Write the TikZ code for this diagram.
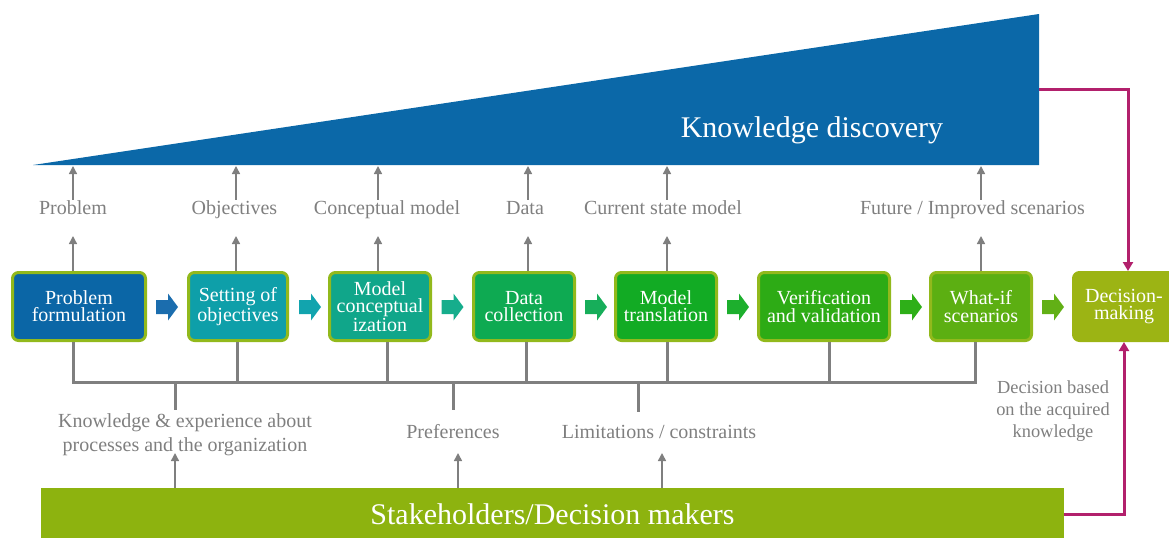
\documentclass[tikz,border=0pt]{standalone}
\usepackage{fontspec}
\setmainfont{LiberationSerif}[Extension=.ttf, UprightFont=*-Regular,
  BoldFont=*-Bold, ItalicFont=*-Italic, BoldItalicFont=*-BoldItalic]
\usetikzlibrary{arrows.meta,calc}

\definecolor{kblue}{HTML}{0B68A8}
\definecolor{lime}{HTML}{92B91C}
\definecolor{shgreen}{HTML}{8DB30F}
\definecolor{lblgray}{HTML}{7F7F7F}
\definecolor{magline}{HTML}{B2206C}
\definecolor{cA}{HTML}{0B66A6}
\definecolor{cB}{HTML}{0E9FA9}
\definecolor{cC}{HTML}{10A68A}
\definecolor{cD}{HTML}{0EAA52}
\definecolor{cE}{HTML}{12AB24}
\definecolor{cF}{HTML}{2DAB15}
\definecolor{cG}{HTML}{5CAF12}
\definecolor{cH}{HTML}{9CB414}
\definecolor{aA}{HTML}{1B6DAE}
\definecolor{aB}{HTML}{12A4AE}
\definecolor{aC}{HTML}{16AD8C}
\definecolor{aD}{HTML}{17AE5A}
\definecolor{aE}{HTML}{1DAF2D}
\definecolor{aF}{HTML}{2EAF18}
\definecolor{aG}{HTML}{62B016}

\tikzset{
  stepbox/.style={draw=lime, line width=1.5pt, rounded corners=3pt,
    minimum height=34pt, inner sep=0pt, align=center, text=white,
    font=\fontsize{10pt}{8.6pt}\selectfont},
  toplbl/.style={text=lblgray, inner sep=0pt, text height=7pt, text depth=2pt,
    font=\fontsize{10pt}{12pt}\selectfont},
  botlbl/.style={text=lblgray, inner sep=0pt, align=center,
    font=\fontsize{10pt}{12pt}\selectfont},
  up/.style={draw=lblgray, line width=0.75pt, -{Triangle[width=4pt,length=4pt]}},
  bus/.style={draw=lblgray, line width=1.5pt},
  magarrow/.style={draw=magline, line width=1.5pt,
    -{Triangle[width=5pt,length=4.5pt]}},
}

% block arrow between two steps, centred on a named coordinate
\newcommand{\blockarrow}[2]{%
  \fill[#2] ($(#1)+(-11,-7)$) -- ($(#1)+(1,-7)$) -- ($(#1)+(1,-13.5)$)
    -- ($(#1)+(11,0)$) -- ($(#1)+(1,13.5)$) -- ($(#1)+(1,7)$)
    -- ($(#1)+(-11,7)$) -- cycle;}

\begin{document}
\begin{tikzpicture}[x=0.5pt, y=-0.5pt]
\useasboundingbox (0,0) rectangle (1169,537);

% knowledge discovery wedge
\coordinate (kd-tip) at (33,165);
\coordinate (kd-top) at (1039,14);
\coordinate (kd-corner) at (1039,165);
\coordinate (kd-out) at (1039,89);
\fill[kblue] (kd-tip) -- (kd-top) -- (kd-corner) -- cycle;
\node[text=white, inner sep=0pt, font=\fontsize{15pt}{18pt}\selectfont]
  (kd) at (812,130) {Knowledge discovery};

% process steps
\node[stepbox, fill=cA, minimum width=66.5pt] (b1) at (79,306.5) {Problem\\formulation};
\node[stepbox, fill=cB, minimum width=49.5pt] (b2) at (238,306.5) {Setting of\\objectives};
\node[stepbox, fill=cC, minimum width=50.5pt] (b3) at (380,306.5) {Model\\conceptual\\ization};
\node[stepbox, fill=cD, minimum width=50.5pt] (b4) at (524,306.5) {Data\\collection};
\node[stepbox, fill=cE, minimum width=50.5pt] (b5) at (666,306.5) {Model\\translation};
\node[stepbox, fill=cF, minimum width=65.5pt] (b6) at (824,306.5) {Verification\\and validation};
\node[stepbox, fill=cG, minimum width=50.5pt] (b7) at (981,306.5) {What-if\\scenarios};
\node[stepbox, fill=cH, draw=cH, minimum width=50.5pt] (b8) at (1124,306.5) {Decision-\\making};

% block arrows
\coordinate (a1) at (167,307);
\coordinate (a2) at (310,307);
\coordinate (a3) at (452.5,307);
\coordinate (a4) at (596,307);
\coordinate (a5) at (738,307);
\coordinate (a6) at (911,307);
\coordinate (a7) at (1053,307);
\blockarrow{a1}{aA}
\blockarrow{a2}{aB}
\blockarrow{a3}{aC}
\blockarrow{a4}{aD}
\blockarrow{a5}{aE}
\blockarrow{a6}{aF}
\blockarrow{a7}{aG}

% outputs of the steps
\node[toplbl] (l1) at (73,209) {Problem};
\node[toplbl] (l2) at (234.5,209) {Objectives};
\node[toplbl] (l3) at (387,209) {Conceptual model};
\node[toplbl] (l4) at (525,209) {Data};
\node[toplbl] (l5) at (663,209) {Current state model};
\node[toplbl] (l7) at (972.5,209) {Future / Improved scenarios};

\foreach \i/\x in {1/73,2/236,3/378,4/528,5/667,7/981} {
  \coordinate (u\i) at (\x,236);
  \coordinate (v\i) at (\x,166);
  \draw[up] (b\i.north -| u\i) -- (u\i);
  \draw[up] (v\i |- l\i.north) -- (v\i);
}

% inputs collected from the stakeholders
\coordinate (q1) at (73,382);
\coordinate (q2) at (237,382);
\coordinate (q3) at (387,382);
\coordinate (q4) at (526,382);
\coordinate (q5) at (667,382);
\coordinate (q6) at (829,382);
\coordinate (q7) at (975,382);
\draw[bus] (b1.south -| q1) -- (q1) -- (q7) -- (b7.south -| q7);
\foreach \i in {2,...,6} { \draw[bus] (b\i.south -| q\i) -- (q\i); }

\coordinate (d1) at (175,410);
\coordinate (d2) at (453,410);
\coordinate (d3) at (638,412);
\foreach \i in {1,2,3} { \draw[bus] (d\i |- q1) -- (d\i); }

\node[botlbl] (k1) at (185,435) {Knowledge \& experience about\\processes and the organization};
\node[botlbl] (k2) at (453,432) {Preferences};
\node[botlbl] (k3) at (659,432) {Limitations / constraints};
\node[botlbl, font=\fontsize{9.2pt}{11pt}\selectfont] (k4) at (1053,411)
  {Decision based\\on the acquired\\knowledge};

% stakeholders bar
\node[fill=shgreen, text=white, inner sep=0pt, minimum width=511.5pt,
  minimum height=26pt, font=\fontsize{15pt}{18pt}\selectfont]
  (sh) at (552.5,514) {Stakeholders/Decision makers};

\coordinate (w1) at (175,453);
\coordinate (w2) at (458,453);
\coordinate (w3) at (662,453);
\foreach \i in {1,2,3} { \draw[up] (sh.north -| w\i) -- (w\i); }

% feedback into the decision
\draw[magarrow] (kd-out) -| ([xshift=2pt]b8.north);
\draw[magarrow] (sh.east) -| (b8.south);
\end{tikzpicture}
\end{document}
